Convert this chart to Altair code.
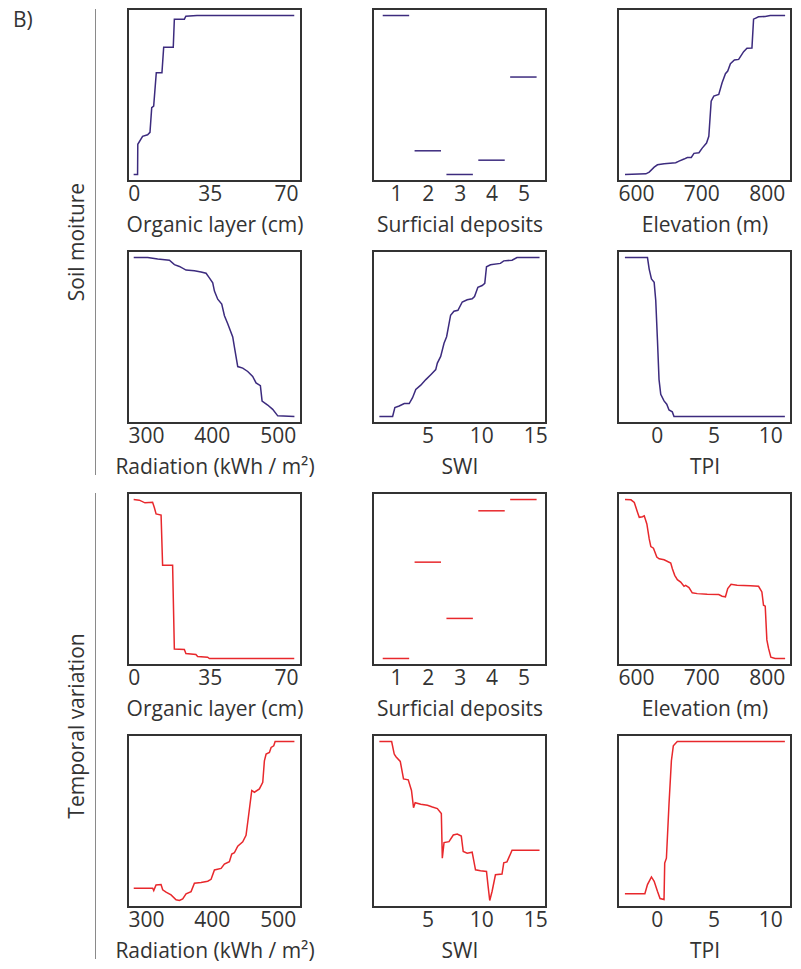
import altair as alt
import pandas as pd

FONT = "Open Sans"
TXT = "#333333"
FW = 400
FS = 21
SOIL = "#3c2b7e"
TEMP = "#e8282c"

panel_tag = "B)"
group_labels = ["Soil moiture", "Temporal variation"]

# ---------------- Soil moisture ----------------
org_sm_x = [0, 1.8, 1.9, 4.1, 6.4, 7.5, 8.3, 9.2, 10.4, 13.0, 13.8, 18.2, 18.7, 23.3, 24.0, 29.1, 73.8]
org_sm_y = [0, 0, 0.19, 0.24, 0.25, 0.265, 0.42, 0.43, 0.64, 0.64, 0.80, 0.80, 0.977, 0.977, 0.996, 1.0, 1.0]

dep_cats = [1, 2, 3, 4, 5]
dep_sm_y = [1.0, 0.149, 0.0, 0.09, 0.613]

ele_sm_x = [583.3, 615.2, 620.3, 627.9, 632.9, 643.1, 660.8, 665.9, 673.5, 678.5, 684.6, 688.7, 696.3, 701.3,
            707.9, 711.4, 715.0, 719.0, 726.6, 731.7, 736.8, 740.3, 744.4, 750.5, 757.0, 764.6, 769.7, 777.3,
            779.8, 787.4, 797.6, 805.2, 828.0]
ele_sm_y = [0, 0.004, 0.015, 0.046, 0.061, 0.067, 0.074, 0.084, 0.097, 0.107, 0.107, 0.133, 0.137, 0.166,
            0.198, 0.24, 0.461, 0.493, 0.503, 0.577, 0.634, 0.651, 0.697, 0.72, 0.724, 0.773, 0.794, 0.796,
            0.977, 0.992, 0.994, 1.0, 1.0]

rad_sm_x = [281.3, 302.5, 317.7, 335.5, 343.1, 350.7, 360.8, 373.5, 383.6, 391.2, 396.2, 401.3, 403.9, 408.9,
            415.0, 419.1, 424.1, 431.7, 434.2, 439.3, 446.9, 454.5, 462.0, 467.1, 473.7, 476.3, 484.8, 492.4,
            500.1, 525.4]
rad_sm_y = [1, 1, 0.99, 0.983, 0.955, 0.944, 0.921, 0.917, 0.909, 0.901, 0.872, 0.841, 0.789, 0.738,
            0.707, 0.634, 0.583, 0.5, 0.438, 0.314, 0.304, 0.283, 0.252, 0.211, 0.194, 0.097, 0.072, 0.045,
            0.004, 0]

swi_sm_x = [0.54, 1.77, 1.98, 2.38, 2.85, 3.31, 3.62, 3.92, 4.38, 4.85, 5.31, 5.77, 5.92, 6.23, 6.54, 6.78,
            7.15, 7.46, 7.83, 8.23, 8.69, 9.15, 9.37, 9.68, 10.08, 10.32, 10.48, 10.85, 11.77, 12.08, 12.85,
            13.31, 15.4]
swi_sm_y = [0, 0, 0.056, 0.066, 0.081, 0.081, 0.118, 0.17, 0.197, 0.232, 0.263, 0.295, 0.336, 0.378, 0.461,
            0.502, 0.637, 0.662, 0.668, 0.72, 0.734, 0.741, 0.755, 0.813, 0.824, 0.838, 0.942, 0.954, 0.963,
            0.979, 0.983, 1, 1]

tpi_sm_x = [-2.81, -0.82, -0.67, -0.47, -0.23, -0.09, 0.06, 0.20, 0.35, 0.64, 0.88, 1.08, 1.37, 1.52, 11.3]
tpi_sm_y = [1, 1, 0.927, 0.865, 0.844, 0.73, 0.481, 0.232, 0.139, 0.098, 0.077, 0.041, 0.029, 0, 0]

# ---------------- Temporal variation ----------------
org_tv_x = [0, 2.6, 5.2, 8.7, 9.5, 10.3, 12.6, 13.3, 17.9, 18.7, 23.3, 24.0, 28.6, 29.4, 34.0, 34.8, 73.8]
org_tv_y = [1, 0.996, 0.979, 0.983, 0.95, 0.909, 0.902, 0.586, 0.586, 0.06, 0.056, 0.031, 0.025, 0.012,
            0.008, 0, 0]

dep_tv_y = [0.0, 0.606, 0.252, 0.929, 1.0]

ele_tv_x = [583.3, 592.4, 597.5, 602.5, 605.1, 610.1, 612.7, 616.7, 620.3, 622.8, 626.8, 631.9, 635.5, 643.1,
            653.2, 655.7, 659.3, 663.3, 668.4, 673.5, 676.0, 681.1, 686.1, 693.7, 708.9, 726.6, 731.7, 736.8,
            740.3, 745.4, 754.6, 774.9, 787.4, 792.5, 795.0, 797.6, 800.1, 802.6, 806.2, 812.8, 828.0]
ele_tv_y = [1, 0.998, 0.981, 0.919, 0.888, 0.892, 0.898, 0.846, 0.752, 0.704, 0.694, 0.638, 0.627, 0.621,
            0.6, 0.565, 0.523, 0.496, 0.481, 0.454, 0.46, 0.446, 0.413, 0.408, 0.404, 0.402, 0.392, 0.388,
            0.44, 0.467, 0.46, 0.458, 0.454, 0.419, 0.335, 0.329, 0.117, 0.065, 0.008, 0, 0]

rad_tv_x = [281.3, 310.1, 311.7, 315.2, 322.8, 325.3, 330.4, 338.0, 345.6, 350.7, 355.7, 360.8, 368.4, 373.5,
            383.6, 393.7, 398.8, 403.9, 414.0, 419.0, 426.6, 430.2, 434.2, 439.3, 446.9, 451.9, 455.5, 460.6,
            464.6, 472.2, 477.3, 479.8, 482.4, 487.4, 490.0, 494.0, 496.1, 525.4]
rad_tv_y = [0.077, 0.077, 0.0625, 0.098, 0.1, 0.067, 0.052, 0.035, 0.004, 0, 0.010, 0.042, 0.056, 0.108,
            0.113, 0.121, 0.133, 0.192, 0.202, 0.229, 0.244, 0.292, 0.3, 0.342, 0.369, 0.41, 0.525, 0.692,
            0.681, 0.702, 0.744, 0.879, 0.921, 0.931, 0.963, 0.973, 1, 1]

swi_tv_x = [0.54, 1.68, 1.92, 2.08, 2.48, 2.78, 3.22, 3.52, 3.71, 3.86, 4.38, 5.0, 5.46, 5.92, 6.29, 6.38,
            6.54, 7.0, 7.4, 7.77, 8.14, 8.32, 8.69, 9.15, 9.46, 9.92, 10.48, 10.63, 10.78, 11.0, 11.31, 11.92,
            12.08, 12.38, 12.85, 15.4]
swi_tv_y = [1, 1, 0.921, 0.904, 0.875, 0.765, 0.759, 0.692, 0.584, 0.615, 0.605, 0.599, 0.588, 0.578, 0.547,
            0.266, 0.364, 0.37, 0.412, 0.418, 0.405, 0.308, 0.297, 0.304, 0.193, 0.187, 0.183, 0.089, 0,
            0.058, 0.162, 0.166, 0.237, 0.243, 0.316, 0.316]

tpi_tv_x = [-2.81, -1.05, -0.82, -0.47, -0.23, 0.06, 0.29, 0.64, 0.70, 0.85, 1.08, 1.29, 1.46, 1.81, 11.3]
tpi_tv_y = [0.042, 0.042, 0.1, 0.148, 0.121, 0.058, 0.012, 0.006, 0.235, 0.266, 0.609, 0.879, 0.973, 1, 1]

# axis settings per variable
titles = {
    "org": "Organic layer (cm)", "dep": "Surficial deposits", "ele": "Elevation (m)",
    "rad": "Radiation (kWh / m²)", "swi": "SWI", "tpi": "TPI",
}
domains = {
    "org": [-2.6, 76.9], "dep": [0.28, 5.71], "ele": [572.6, 837.0],
    "rad": [272.6, 535.4], "swi": [-0.05, 16.0], "tpi": [-3.42, 11.84],
}
ticks = {
    "org": [0, 35, 70], "dep": [1, 2, 3, 4, 5], "ele": [600, 700, 800],
    "rad": [300, 400, 500], "swi": [5, 10, 15], "tpi": [0, 5, 10],
}

W, H = 173, 172
YDOM = [-0.041, 1.041]
FRAME = alt.ViewBackground(stroke="#333333", strokeWidth=2)


def xaxis(key):
    return alt.Axis(values=ticks[key], title=titles[key], grid=False, ticks=False, domain=False,
                    labelPadding=2, titlePadding=10, format="d")


def line_panel(key, xs, ys, color):
    df = pd.DataFrame({"x": xs, "y": ys, "i": list(range(len(xs)))})
    return alt.Chart(df).mark_line(color=color, strokeWidth=1.5).encode(
        x=alt.X("x:Q", scale=alt.Scale(domain=domains[key], nice=False, zero=False), axis=xaxis(key)),
        y=alt.Y("y:Q", scale=alt.Scale(domain=YDOM, nice=False, zero=False), axis=None),
        order=alt.Order("i:Q"),
    ).properties(width=W, height=H, view=FRAME)


def seg_panel(vals, color):
    df = pd.DataFrame({"c": dep_cats, "v": vals})
    return alt.Chart(df).transform_calculate(
        lo="datum.c - 0.415", hi="datum.c + 0.415"
    ).mark_rule(color=color, strokeWidth=1.5).encode(
        x=alt.X("lo:Q", scale=alt.Scale(domain=domains["dep"], nice=False, zero=False), axis=xaxis("dep")),
        x2="hi:Q",
        y=alt.Y("v:Q", scale=alt.Scale(domain=YDOM, nice=False, zero=False), axis=None),
    ).properties(width=W, height=H, view=FRAME)


def left_panel(label, with_tag):
    layers = [
        alt.Chart(pd.DataFrame({"label": [label]})).mark_rule(color="#8a8a8a", strokeWidth=1).encode(
            x=alt.value(89.5), y=alt.value(0), y2=alt.value(466)),
        alt.Chart(pd.DataFrame({"label": [label]})).mark_text(
            angle=270, fontSize=FS, font=FONT, fontWeight=FW, color=TXT, align="center", baseline="alphabetic"
        ).encode(x=alt.value(78), y=alt.value(233), text="label:N"),
    ]
    if with_tag:
        layers.append(
            alt.Chart(pd.DataFrame({"t": [panel_tag]})).mark_text(
                fontSize=FS, font=FONT, fontWeight=FW, color=TXT, align="left", baseline="middle"
            ).encode(x=alt.value(7), y=alt.value(12), text="t:N"))
    return alt.layer(*layers).properties(width=50, height=H)


def blank_panel():
    return alt.Chart(pd.DataFrame({"t": [""]})).mark_text().encode(
        x=alt.value(0), y=alt.value(0), text="t:N").properties(width=50, height=H)


charts = [
    left_panel(group_labels[0], True),
    line_panel("org", org_sm_x, org_sm_y, SOIL),
    seg_panel(dep_sm_y, SOIL),
    line_panel("ele", ele_sm_x, ele_sm_y, SOIL),
    blank_panel(),
    line_panel("rad", rad_sm_x, rad_sm_y, SOIL),
    line_panel("swi", swi_sm_x, swi_sm_y, SOIL),
    line_panel("tpi", tpi_sm_x, tpi_sm_y, SOIL),
    left_panel(group_labels[1], False),
    line_panel("org", org_tv_x, org_tv_y, TEMP),
    seg_panel(dep_tv_y, TEMP),
    line_panel("ele", ele_tv_x, ele_tv_y, TEMP),
    blank_panel(),
    line_panel("rad", rad_tv_x, rad_tv_y, TEMP),
    line_panel("swi", swi_tv_x, swi_tv_y, TEMP),
    line_panel("tpi", tpi_tv_x, tpi_tv_y, TEMP),
]

chart = alt.concat(
    *charts, columns=4, spacing={"row": 70, "column": 72}, bounds="flush", align="each"
).properties(
    padding={"left": 5, "top": 8, "right": 5, "bottom": 5},
    background="white",
).configure_view(
    stroke="transparent"
).configure_axis(
    labelFont=FONT, titleFont=FONT, labelFontSize=FS, titleFontSize=FS,
    labelFontWeight=FW, titleFontWeight=FW, labelColor=TXT, titleColor=TXT,
)

chart.save("out.html", embed_options={"renderer": "svg", "actions": False})
